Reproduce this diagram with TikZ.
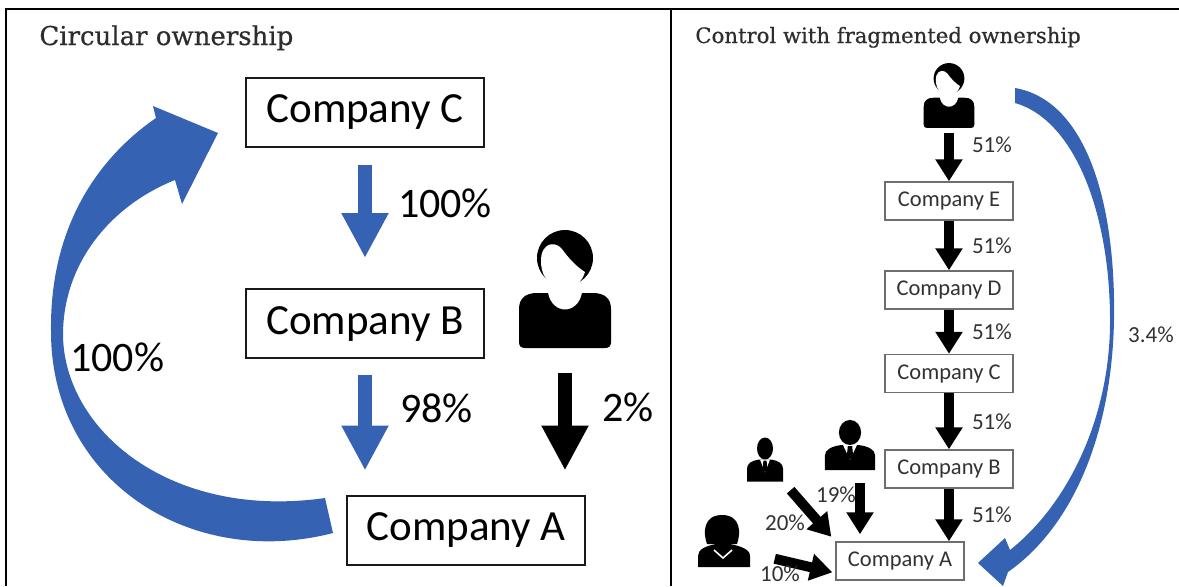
\documentclass[tikz,border=0pt]{standalone}
\usepackage{fontspec}
\setmainfont{Carlito}
\newfontfamily\slabfont[FakeBold=0.5]{DejaVu Serif}
\usetikzlibrary{arrows.meta}
\definecolor{ownblue}{RGB}{54,98,180}
\definecolor{titlegray}{RGB}{45,45,45}
\definecolor{boxgray}{RGB}{110,110,110}
\definecolor{labelgray}{RGB}{50,50,50}

\begin{document}
\begin{tikzpicture}[x=0.5pt, y=-0.5pt]
\tikzset{
    company/.style= {draw=black!90, line width=1pt, minimum width=119pt, minimum height=34.5pt, inner sep=0pt, font=\fontsize{21.5}{24}\selectfont},
    firm/.style= {draw=boxgray, line width=0.75pt, minimum width=64pt, minimum height=19pt, inner sep=0pt, text=labelgray, font=\fontsize{11.25}{13}\selectfont},
    owner/.style= {inner sep=0pt, minimum width=46pt, minimum height=59pt},
    bigblue/.style= {ownblue, line width=7pt, -{Triangle[length=22.5pt, width=22pt]}},
    bigblack/.style= {black, line width=7pt, -{Triangle[length=22.5pt, width=22pt]}},
    thinblack/.style= {black, line width=5pt, -{Triangle[length=11pt, width=13pt]}},
    bigpct/.style= {anchor=west, inner sep=0pt, black, font=\fontsize{21}{24}\selectfont},
    smallpct/.style= {inner sep=0pt, text=labelgray, font=\fontsize{11.5}{13}\selectfont},
    ptitle/.style= {anchor=base west, inner sep=0pt, text=titlegray},
    user/.pic= {
        \fill (0,-31) circle [radius=28];
        \fill[white] (-23,-36) .. controls (-19,-47) and (-9,-47) .. (-3,-40) .. controls (4,-30) and (12,-22) .. (20,-17) .. controls (14,4) and (-12,4) .. (-20,-12) .. controls (-24,-18) and (-25,-29) .. (-23,-36) -- cycle;
        \fill (-46,53) -- (-46,20) .. controls (-46,9) and (-39,4) .. (-28,4) -- (-17,4) .. controls (-13,26) and (13,26) .. (17,4) -- (28,4) .. controls (39,4) and (46,9) .. (46,20) -- (46,53) .. controls (46,57) and (44,59) .. (40,59) -- (-40,59) .. controls (-44,59) and (-46,57) .. (-46,53) -- cycle;
    },
    suit/.pic= {
        \fill (0,-11) ellipse [x radius=8, y radius=11];
        \fill (-18,22) -- (-18,9) .. controls (-18,4) and (-13,1) .. (-6,0) -- (6,0) .. controls (13,1) and (18,4) .. (18,9) -- (18,22) -- cycle;
        \fill[white] (-5,0) -- (5,0) -- (0,13) -- cycle;
        \fill (-1.6,1) -- (1.6,1) -- (2.2,9) -- (0,13) -- (-2.2,9) -- cycle;
    },
    lady/.pic= {
        \fill (-17,3) .. controls (-21,-8) and (-21,-26) .. (-2,-26) .. controls (17,-26) and (17,-8) .. (13,3) -- cycle;
        \fill (-26,26) -- (-26,15) .. controls (-26,8) and (-18,5) .. (-8,3) -- (6,3) .. controls (16,5) and (26,8) .. (26,15) -- (26,26) -- cycle;
        \draw[white, line width=0.8pt] (-10,9) -- (-1,17) -- (8,9);
    },
}
\useasboundingbox (0,0) rectangle (1179,586);

% frame
\draw[line width=1pt] (6,586) -- (6,9) -- (1179,9);
\draw[line width=1pt] (671,9) -- (671,586);

% circular ownership
\node[ptitle, font=\slabfont\fontsize{13}{15}\selectfont] (T1) at (39,45) {Circular ownership};

\node[company] (CC) at (365,112) {Company C};
\node[company] (CB) at (365,323.5) {Company B};
\node[company] (CA) at (466,530) {Company A};
\node[owner] (OWN) at (565,289) {};
\pic at (OWN) {user};

\draw
(CC) edge[bigblue, shorten <=8.5pt, shorten >=15pt] node[bigpct, pos=0.4, xshift=13pt] {100\%} (CB)
(CB) edge[bigblue, shorten <=8pt, shorten >=12pt] node[bigpct, pos=0.365, xshift=14pt] {98\%} (CB.south |- CA.north)
(OWN) edge[bigblack, shorten <=12.5pt, shorten >=12pt] node[bigpct, pos=0.4, xshift=15pt] {2\%} (OWN.south |- CA.north);

\fill[ownblue] (333,533) .. controls (190,570) and (50,480) .. (51,330) .. controls (50,230) and (95,160) .. (156,118) -- (153,106) -- (218,133) -- (182,204) -- (175,180) .. controls (112,205) and (63,262) .. (63,335) .. controls (64,430) and (170,520) .. (325,498) -- cycle;
\node[bigpct] (P100) at (70,357) {100\%};

% fragmented ownership
\node[ptitle, font=\slabfont\fontsize{10.6}{13}\selectfont] (T2) at (695,43) {Control with fragmented ownership};

\node[owner, minimum width=25pt, minimum height=32.5pt] (TOP) at (949,95.5) {};
\pic[scale=0.55] at (TOP) {user};
\node[firm] (FE) at (949,201) {Company E};
\node[firm] (FD) at (949,290) {Company D};
\node[firm] (FC) at (949,373.5) {Company C};
\node[firm] (FB) at (949,469) {Company B};
\node[firm] (FA) at (900,561) {Company A};

\node[owner, minimum width=18pt, minimum height=22pt] (S1) at (765,459.5) {};
\pic at (S1) {suit};
\node[owner, minimum width=25pt, minimum height=25pt] (S2) at (850,445) {};
\pic[xscale=1.39, yscale=1.14] at (S2) {suit};
\node[owner, minimum width=26pt, minimum height=26pt] (W) at (724,541) {};
\pic at (W) {lady};

\draw
(TOP) edge[thinblack, shorten <=2.5pt] node[smallpct, anchor=west, pos=0.31, xshift=9pt] {51\%} (FE)
(FE) edge[thinblack] node[smallpct, anchor=west, xshift=9pt] {51\%} (FD)
(FD) edge[thinblack] node[smallpct, anchor=west, xshift=9pt] {51\%} (FC)
(FC) edge[thinblack] node[smallpct, anchor=west, xshift=9pt] {51\%} (FB)
(FB) edge[thinblack] node[smallpct, anchor=west, xshift=9pt] {51\%} (FB.south |- FA.north)
(S1.south east) edge[thinblack, shorten <=5.5pt, shorten >=3pt] (FA.north west)
([xshift=5pt]S2.south) edge[thinblack, shorten <=6.5pt, shorten >=3.5pt] ([xshift=5pt]S2.south |- FA.north)
([yshift=-6pt]W.east) edge[thinblack, shorten <=12.5pt, shorten >=1.5pt] ([yshift=-6pt]FA.west);

\node[smallpct] (P20) at (785,523) {20\%};
\node[smallpct] (P19) at (836,495) {19\%};
\node[smallpct] (P10) at (780,574) {10\%};

\fill[ownblue] (1015,88) .. controls (1085,100) and (1116,200) .. (1114,320) .. controls (1112,430) and (1075,525) .. (1008,572) -- (1003,586) -- (978,563) -- (1005,538) -- (1010,550) .. controls (1067,505) and (1109,420) .. (1110,325) .. controls (1111,215) and (1075,120) .. (1015,103) -- cycle;
\node[smallpct] (P34) at (1151,335) {3.4\%};
\end{tikzpicture}
\end{document}
